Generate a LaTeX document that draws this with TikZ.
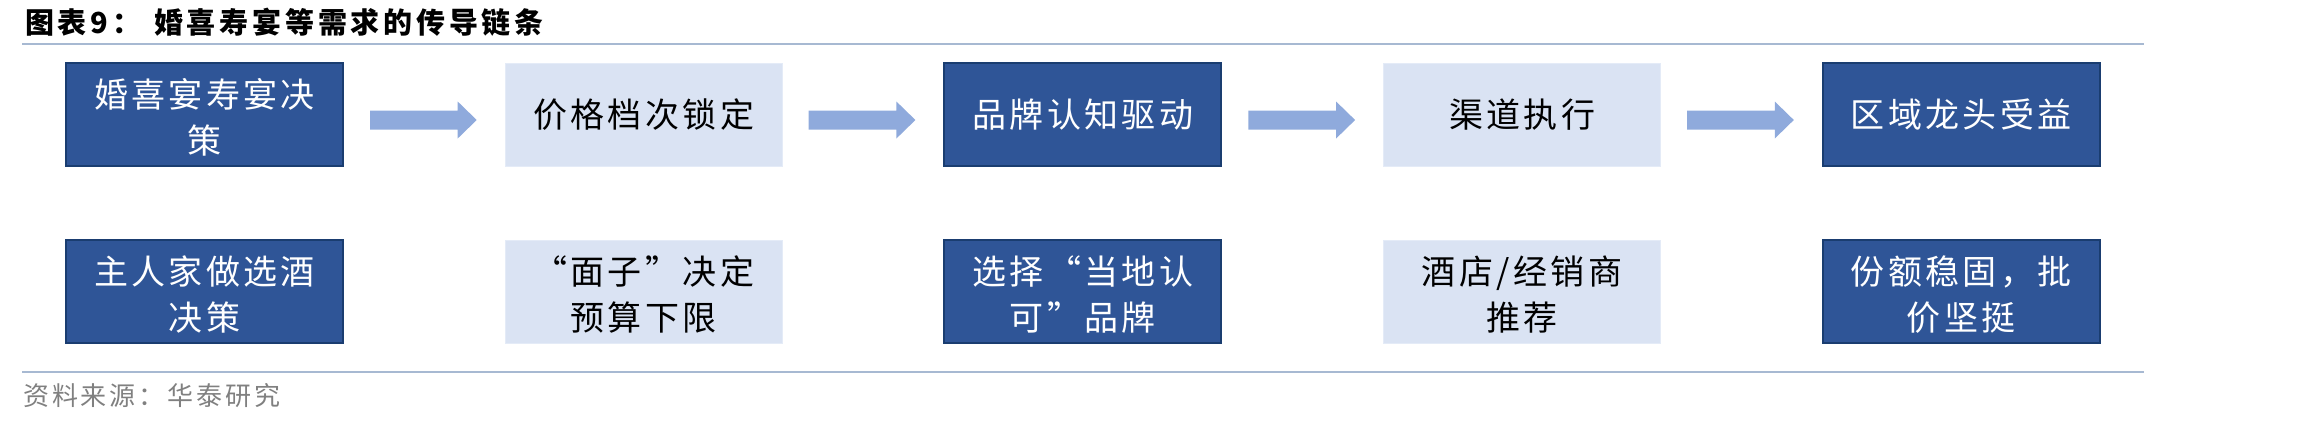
\documentclass[tikz,border=0pt]{standalone}
\usepackage{fontspec}
\setmainfont{Noto Sans CJK SC}
\newfontfamily\boxfont[LetterSpace=10]{Noto Sans CJK SC}
\newfontfamily\titlefont[LetterSpace=13]{Noto Sans CJK SC}
\newfontfamily\srcfont[LetterSpace=11]{Noto Sans CJK SC}
\usetikzlibrary{calc}
\definecolor{darkfill}{HTML}{2F5597}
\definecolor{darkline}{HTML}{1A3D70}
\definecolor{lightfill}{HTML}{DAE3F3}
\definecolor{lightline}{HTML}{E4EBF7}
\definecolor{arrowfill}{HTML}{8FAADC}
\definecolor{ruleline}{HTML}{A7B9D2}
\definecolor{srcgray}{HTML}{808080}
\tikzset{
  boxbase/.style={rectangle, minimum width=277bp, minimum height=103bp, inner sep=0pt,
    align=center, font=\boxfont\fontsize{34bp}{46bp}\selectfont},
  darkbox/.style={boxbase, fill=darkfill, draw=darkline, line width=2bp, text=white},
  lightbox/.style={boxbase, fill=lightfill, draw=lightline, line width=1bp, text=black},
  twoline/.style={text height=80bp, text depth=2.5bp},
  rulestyle/.style={draw=ruleline, line width=2.5bp},
}
\newcommand\blockarrow[2]{%
  \fill[arrowfill] let \p1=($(#1.east)+(26bp,0)$), \p2=($(#2.west)+(-28bp,0)$) in
    (\x1,\y1+4bp) -- (\x2-19bp,\y1+4bp) -- (\x2-19bp,\y1+13bp) -- (\x2,\y1-5.5bp)
    -- (\x2-19bp,\y1-24bp) -- (\x2-19bp,\y1-15bp) -- (\x1,\y1-15bp) -- cycle;}
\begin{document}
\begin{tikzpicture}[x=1bp,y=-1bp]
\useasboundingbox (0,0) rectangle (2298,426);
% title
\node[anchor=west, inner sep=0pt, font=\titlefont\bfseries\fontsize{29bp}{34bp}\selectfont] (title) at (25,22)
  {图表9：\hspace{13bp}婚喜寿宴等需求的传导链条};
\coordinate (tl1) at (22,44);
\coordinate (tl2) at (2144,44);
\draw[rulestyle] (tl1) -- (tl2);
% row 1
\node[darkbox,twoline]  (a1) at (204.5,114.5) {婚喜宴寿宴决\\策};
\node[lightbox] (a2) at (643.7,114.5) {价格档次锁定};
\node[darkbox]  (a3) at (1082.9,114.5) {品牌认知驱动};
\node[lightbox] (a4) at (1522.1,114.5) {渠道执行};
\node[darkbox]  (a5) at (1961.3,114.5) {区域龙头受益};
% row 2
\node[darkbox,twoline]  (b1) at (204.5,291.5) {主人家做选酒\\决策};
\node[lightbox,twoline] (b2) at (643.7,291.5) {“面子”决定\\预算下限};
\node[darkbox,twoline]  (b3) at (1082.9,291.5) {选择“当地认\\可”品牌};
\node[lightbox,twoline] (b4) at (1522.1,291.5) {酒店/经销商\\推荐};
\node[darkbox,twoline]  (b5) at (1961.3,291.5) {份额稳固，批\\价坚挺};
% arrows
\blockarrow{a1}{a2}
\blockarrow{a2}{a3}
\blockarrow{a3}{a4}
\blockarrow{a4}{a5}
% bottom rule and source
\coordinate (bl1) at (22,372);
\coordinate (bl2) at (2144,372);
\draw[rulestyle] (bl1) -- (bl2);
\node[anchor=west, inner sep=0pt, text=srcgray, font=\srcfont\fontsize{26bp}{30bp}\selectfont] (src) at (23,396)
  {资料来源：华泰研究};
\end{tikzpicture}
\end{document}
